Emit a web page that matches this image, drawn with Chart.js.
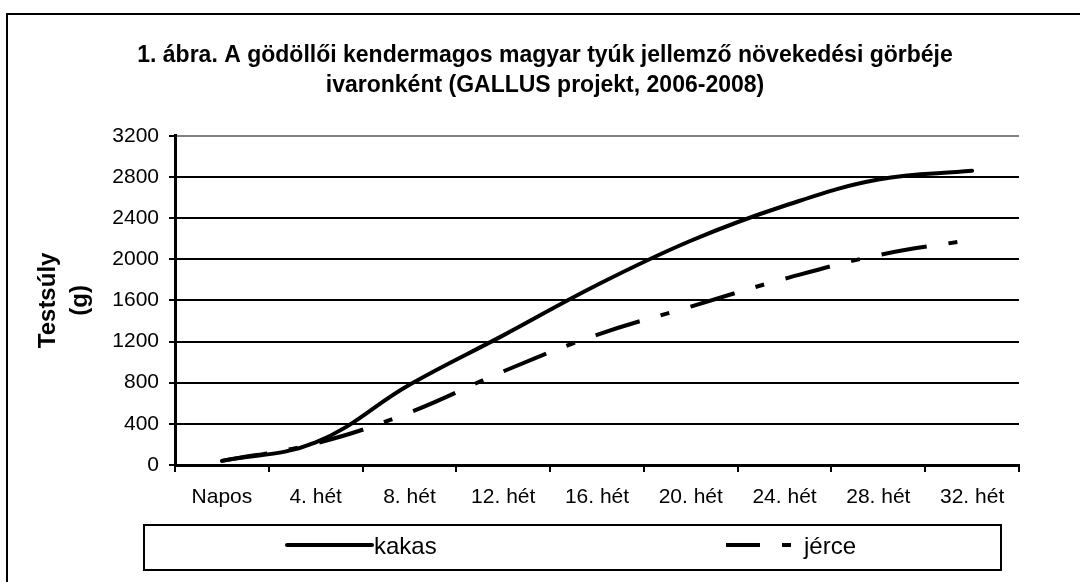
<!DOCTYPE html>
<html>
<head>
<meta charset="utf-8">
<title>GALLUS növekedési görbe</title>
<script src="https://cdn.jsdelivr.net/npm/chart.js@4.4.0/dist/chart.umd.min.js"></script>
<style>
    html, body { margin: 0; padding: 0; background: #fff; overflow: hidden; }
    .frame {
        position: absolute; left: 6px; top: 13px; width: 1200px; height: 700px;
        border-left: 2px solid #000; border-top: 2px solid #000;
    }
    .chart-box { position: absolute; left: 0; top: 0; width: 1080px; height: 582px; }
</style>
</head>
<body>
<div class="frame"></div>
<div class="chart-box"><canvas id="growthChart"></canvas></div>
<script>
// Data
const weeks = ['Napos', '4. hét', '8. hét', '12. hét', '16. hét', '20. hét', '24. hét', '28. hét', '32. hét'];
const kakasWeights = [40, 220, 780, 1260, 1750, 2180, 2520, 2775, 2860];
const jerceWeights = [40, 210, 510, 910, 1265, 1540, 1810, 2040, 2190];
const weightMin = 0;
const weightMax = 3200;
const weightStep = 400;

const chartTitle = [
    '1. ábra. A gödöllői kendermagos magyar tyúk jellemző növekedési görbéje',
    'ivaronként (GALLUS projekt, 2006-2008)'
];
const yTitle = ['Testsúly', '(g)'];

Chart.defaults.font.family = '"Liberation Sans", Arial, sans-serif';
Chart.defaults.color = '#000';

// Legend drawn as the boxed Excel-style legend under the axis
const boxLegend = {
    id: 'boxLegend',
    afterDraw(chart) {
        const ctx = chart.ctx;
        const samples = [
            { x: 287, len: 85, dash: [] },
            { x: 726, len: 65, dash: [34, 22, 9, 30] }
        ];
        ctx.save();
        ctx.strokeStyle = '#000';
        ctx.lineWidth = 2;
        ctx.strokeRect(144, 525, 857, 45);

        chart.data.datasets.forEach(function(ds, i) {
            const s = samples[i];
            ctx.beginPath();
            ctx.setLineDash(s.dash);
            ctx.lineWidth = ds.borderWidth;
            ctx.lineCap = s.dash.length ? 'butt' : 'round';
            ctx.strokeStyle = ds.borderColor;
            ctx.moveTo(s.x, 545);
            ctx.lineTo(s.x + s.len, 545);
            ctx.stroke();
            ctx.setLineDash([]);
            ctx.fillStyle = '#000';
            ctx.font = '24px "Liberation Sans", Arial, sans-serif';
            ctx.textBaseline = 'middle';
            ctx.fillText(ds.label, s.x + s.len + (s.dash.length ? 13 : 2), 547);
        });
        ctx.restore();
    }
};

new Chart(document.getElementById('growthChart'), {
    type: 'line',
    data: {
        labels: weeks,
        datasets: [{
            label: 'kakas',
            data: kakasWeights,
            borderColor: '#000',
            borderWidth: 4,
            borderCapStyle: 'round',
            pointRadius: 0,
            tension: 0.4,
            fill: false
        }, {
            label: 'jérce',
            data: jerceWeights,
            borderColor: '#000',
            borderWidth: 4,
            borderDash: [46, 22, 9, 22],
            borderCapStyle: 'butt',
            pointRadius: 0,
            tension: 0.4,
            fill: false
        }]
    },
    options: {
        responsive: true,
        maintainAspectRatio: false,
        animation: false,
        devicePixelRatio: 1,
        layout: { padding: { left: 71, right: 61, top: 0, bottom: 0 } },
        plugins: {
            legend: { display: false },
            tooltip: { enabled: false },
            title: {
                display: true,
                text: chartTitle,
                color: '#000',
                font: { size: 23, weight: 'bold', lineHeight: 1.3 },
                padding: { top: 41, bottom: 35 }
            }
        },
        scales: {
            x: {
                offset: true,
                afterFit: function(scale) { scale.height = 117; },
                grid: {
                    offset: true,
                    lineWidth: 2,
                    tickLength: 7,
                    tickColor: '#000',
                    color: function(c) { return c.index === weeks.length ? '#808080' : 'rgba(0,0,0,0)'; }
                },
                border: { color: '#000', width: 3 },
                ticks: { font: { size: 21 }, color: '#000', padding: 13, maxRotation: 0, autoSkip: false }
            },
            y: {
                min: weightMin,
                max: weightMax,
                afterFit: function(scale) { scale.width = 104; },
                grid: {
                    lineWidth: 2,
                    tickLength: 6,
                    tickColor: '#000',
                    color: function(c) { return c.tick && c.tick.value === weightMax ? '#808080' : '#000'; }
                },
                border: { color: '#000', width: 3 },
                ticks: {
                    stepSize: weightStep,
                    font: { size: 21 },
                    color: '#000',
                    padding: 10,
                    callback: function(value) { return String(value); }
                },
                title: {
                    display: true,
                    text: yTitle,
                    color: '#000',
                    font: { size: 24, weight: 'bold', lineHeight: 1.35 },
                    padding: { top: -39, bottom: 0 }
                }
            }
        }
    },
    plugins: [boxLegend]
});
</script>
</body>
</html>
